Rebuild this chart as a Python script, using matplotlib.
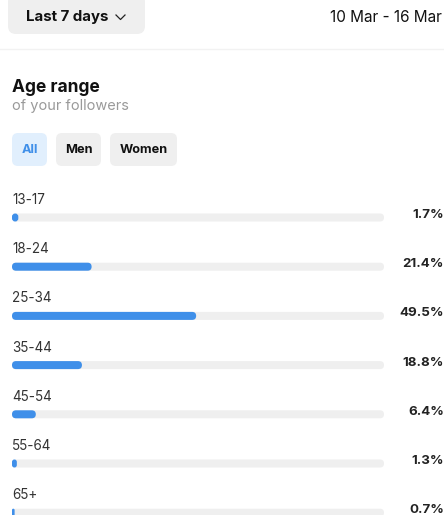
import matplotlib.pyplot as plt
from matplotlib.patches import FancyBboxPatch

plt.rcParams["font.family"] = ["Inter", "DejaVu Sans"]

age_groups = ["13-17", "18-24", "25-34", "35-44", "45-54", "55-64", "65+"]
shares = [1.7, 21.4, 49.5, 18.8, 6.4, 1.3, 0.7]
filters = ["All", "Men", "Women"]

W, H = 444, 515
BLUE = "#3f8fe9"
TRACK = "#efefef"

fig = plt.figure(figsize=(W / 100, H / 100), dpi=100)
fig.patch.set_facecolor("white")

# overlay in pixel units for the header and filter chips
ui = fig.add_axes([0, 0, 1, 1])
ui.set_xlim(0, W)
ui.set_ylim(H, 0)
ui.axis("off")


def chip(ax, x, y, w, h, color, r=6):
    ax.add_patch(FancyBboxPatch((x, y), w, h,
                                boxstyle=f"round,pad=0,rounding_size={r}",
                                fc=color, ec="none"))


chip(ui, 8, -6, 137, 40, "#efefef", r=8)
ui.text(26, 17, "Last 7 days", fontsize=10.8, fontweight="bold",
        color="#111111", va="center", ha="left")
ui.plot([116, 120.5, 125], [15, 19.5, 15], color="#222222", lw=0.9)
ui.text(330, 18, "10 Mar - 16 Mar", fontsize=11, color="#111111",
        va="center", ha="left", clip_on=True)
ui.plot([0, W], [49, 49], color="#f2f2f2", lw=1)

ui.text(12, 87, "Age range", fontsize=12.5, fontweight="bold",
        color="#111111", va="center", ha="left")
ui.text(12, 106, "of your followers", fontsize=10.5, color="#9a9a9a",
        va="center", ha="left")

chip_x = [12, 56, 110]
chip_w = [35, 45, 67]
for i, name in enumerate(filters):
    active = i == 0
    chip(ui, chip_x[i], 133, chip_w[i], 33,
         "#e1effd" if active else "#efefef")
    ui.text(chip_x[i] + chip_w[i] / 2, 150, name, fontsize=9.2,
            fontweight="bold", color=BLUE if active else "#111111",
            ha="center", va="center")

# bar rows: one data unit per row, 0-100% across the track
top_px, row_px, track_left, track_right = 217.5, 49.2, 12, 384
ax = fig.add_axes([track_left / W, 0, (track_right - track_left) / W,
                   (H - 190) / H])
ax.set_xlim(0, 100)
ax.set_ylim((H - top_px) / row_px, (190 - top_px) / row_px)
ax.axis("off")

bar_h = 8 / row_px
x_per_px = 100 / (track_right - track_left)
aspect = (1 / row_px) / x_per_px
radius = 4 * x_per_px

for i, (label, val) in enumerate(zip(age_groups, shares)):
    y0 = i - bar_h / 2
    ax.add_patch(FancyBboxPatch((0, y0), 100, bar_h,
                                boxstyle=f"round,pad=0,rounding_size={radius}",
                                mutation_aspect=aspect, fc=TRACK, ec="none"))
    r = min(radius, val / 2)
    ax.add_patch(FancyBboxPatch((0, y0), val, bar_h,
                                boxstyle=f"round,pad=0,rounding_size={r}",
                                mutation_aspect=aspect, fc=BLUE, ec="none"))
    ax.text(0, i - 17.5 / row_px, label, fontsize=9.7, color="#333333",
            ha="left", va="center")
    ax.text((W - track_left) * x_per_px, i - 2.5 / row_px, f"{val}%",
            fontsize=9.6, fontweight="bold", color="#222222",
            ha="right", va="center", clip_on=False)

fig.savefig("out.png", dpi=100)
